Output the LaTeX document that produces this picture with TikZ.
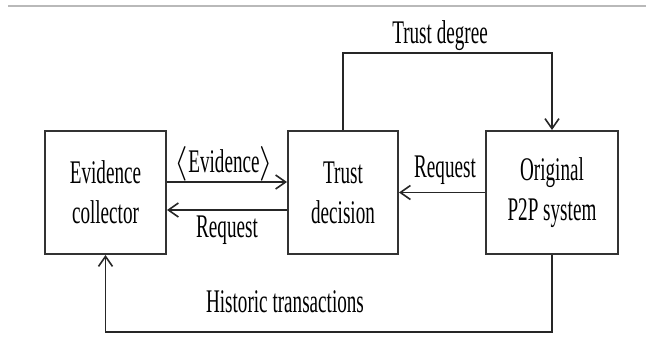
\documentclass[tikz,border=0pt]{standalone}
\usepackage{fontspec}
\setmainfont{Liberation Serif}[FakeStretch=0.58]
\usetikzlibrary{arrows.meta}

\begin{document}
\begin{tikzpicture}[x=0.5pt,y=-0.5pt,
  font=\fontsize{16.5}{20}\selectfont,
  box/.style={draw=black!80,line width=1pt,minimum height=61.5pt,align=center,inner sep=0pt},
  link/.style={draw=black!85,line width=0.8pt,-{Straight Barb[length=5pt,width=7pt]}},
  lbl/.style={inner sep=0pt,anchor=base}]

\useasboundingbox (0,0) rectangle (646,354);

% Rule at the top
\draw[gray!55,line width=1pt] (8,6) -- (646,6);

% Boxes
\node[box,minimum width=60.5pt] (ev) at (105.5,192.5) {Evidence\\collector};
\node[box,minimum width=55pt] (td) at (343,192.5) {Trust\\decision};
\node[box,minimum width=66pt] (op) at (552,192.5) {Original\\P2P system};

% Bend points
\coordinate (up) at (446,53);
\coordinate (down) at (330,332);

% Connectors
\draw[link] ([yshift=5.25pt]ev.east) -- ([yshift=5.25pt]td.west);
\draw[link] ([yshift=-8.75pt]td.west) -- ([yshift=-8.75pt]ev.east);
\draw[link] (op.west) -- (td.east);
\draw[link] (td.north) |- (up) -| (op.north);
\draw[link] (op.south) |- (down) -| (ev.south);

% Labels
\node[lbl] (deg) at (440,43) {Trust degree};
\node[lbl] (evi) at (224,172) {$\langle$Evidence$\rangle$};
\node[lbl] (req1) at (227,237) {Request};
\node[lbl] (req2) at (445,177) {Request};
\node[lbl] (hist) at (285,312) {Historic transactions};

\end{tikzpicture}
\end{document}
